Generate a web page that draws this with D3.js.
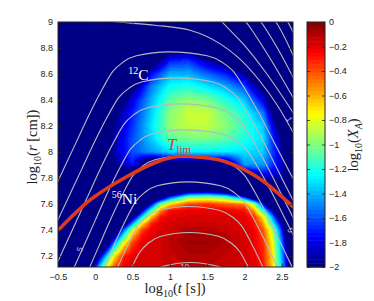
<!DOCTYPE html>
<html><head><meta charset="utf-8">
<script src="https://cdn.jsdelivr.net/npm/d3@7"></script>
<style>body{margin:0;background:#fff}svg{display:block}</style>
</head><body><div id="chart"></div>
<script>
// ---------------- data ----------------
// 12C abundance, coarse grid (log10 X), rows = cGridR, cols = cGridT
const cGridT = [-0.5,-0.25,0,0.25,0.5,0.75,1,1.25,1.5,1.75,2,2.25,2.5,2.75];
const cGridR = [9.0,8.9,8.8,8.7,8.6,8.5,8.4,8.3,8.2,8.1,8.0,7.9,7.8,7.7,7.6,7.5,7.4,7.3,7.2,7.1];
const carbonLogX = [
 [-3,-3,-3,-3,-3,-3,-3,-3,-3,-3,-3,-3,-3,-3],
 [-3,-3,-3,-3,-3,-3,-3,-3,-3,-3,-3,-3,-3,-3],
 [-3,-3,-3,-3,-3,-3,-2.15,-2.1,-2.5,-2.8,-3,-3,-3,-3],
 [-3,-3,-3,-3,-3,-2.2,-1.7,-1.65,-1.9,-2.1,-2.5,-3,-3,-3],
 [-3,-3,-3,-3,-2.7,-1.75,-1.4,-1.4,-1.55,-1.7,-1.95,-2.6,-3,-3],
 [-3,-3,-3,-2.6,-2.05,-1.5,-1.22,-1.18,-1.28,-1.4,-1.6,-2.1,-3,-3],
 [-3,-3,-3,-2.3,-1.8,-1.4,-1.07,-0.97,-1.02,-1.18,-1.35,-1.8,-2.8,-3],
 [-3,-3,-2.4,-2.05,-1.7,-1.35,-0.98,-0.85,-0.86,-1.03,-1.2,-1.5,-2.5,-3],
 [-3,-3,-2.4,-1.98,-1.65,-1.3,-0.96,-0.87,-0.87,-0.98,-1.15,-1.35,-2.2,-3],
 [-3,-3,-2.4,-1.92,-1.6,-1.35,-1.08,-1.03,-1.03,-1.08,-1.2,-1.3,-2.0,-3],
 [-3,-3,-2.4,-1.92,-1.6,-1.45,-1.33,-1.28,-1.28,-1.28,-1.3,-1.35,-1.9,-3],
 [-3,-3,-3,-2.0,-1.72,-2.5,-2.2,-2.2,-2.2,-2.2,-1.45,-1.45,-1.85,-3],
 [-3,-3,-3,-2.2,-3,-3,-3,-3,-3,-3,-2.4,-1.9,-1.9,-3],
 [-3,-3,-3,-3,-3,-3,-3,-3,-3,-3,-3,-3,-2.2,-3],
 [-3,-3,-3,-3,-3,-3,-3,-3,-3,-3,-3,-3,-3,-3],
 [-3,-3,-3,-3,-3,-3,-3,-3,-3,-3,-3,-3,-3,-3],
 [-3,-3,-3,-3,-3,-3,-3,-3,-3,-3,-3,-3,-3,-3],
 [-3,-3,-3,-3,-3,-3,-3,-3,-3,-3,-3,-3,-3,-3],
 [-3,-3,-3,-3,-3,-3,-3,-3,-3,-3,-3,-3,-3,-3],
 [-3,-3,-3,-3,-3,-3,-3,-3,-3,-3,-3,-3,-3,-3]
];
// 56Ni abundance, finer grid (log10 X)
const niGridT = [-0.25,0,0.125,0.25,0.375,0.5,0.625,0.75,0.875,1.0,1.25,1.5,1.75,2.0,2.125,2.25,2.375,2.5,2.625,2.75];
const niGridR = [7.8,7.75,7.7,7.65,7.6,7.55,7.5,7.45,7.4,7.35,7.3,7.2,7.1];
const nickelLogX = [
 [-3.5,-3.5,-3.5,-3.5,-3.5,-3.5,-3.5,-3.5,-3.5,-3.5,-3.5,-3.5,-3.5,-3.5,-3.5,-3.5,-3.5,-3.5,-3.5,-3.5],
 [-3.5,-3.5,-3.5,-3.5,-3.5,-3.5,-3.5,-3.5,-3.5,-3.3,-3.05,-2.98,-3.15,-3.5,-3.5,-3.5,-3.5,-3.5,-3.5,-3.5],
 [-3.5,-3.5,-3.5,-3.5,-3.5,-3.5,-3.5,-3.5,-3.1,-2.66,-2.09,-2.0,-2.2,-2.68,-3.2,-3.5,-3.5,-3.5,-3.5,-3.5],
 [-3.5,-3.5,-3.5,-3.5,-3.5,-3.5,-3.3,-2.66,-2.15,-1.6,-0.98,-0.92,-1.06,-1.65,-2.25,-2.7,-3.3,-3.5,-3.5,-3.5],
 [-3.5,-3.5,-3.5,-3.5,-3.5,-3.5,-2.55,-1.8,-1.05,-0.7,-0.38,-0.35,-0.43,-0.5,-0.9,-1.75,-2.7,-3.5,-3.5,-3.5],
 [-3.5,-3.5,-3.5,-3.5,-3.5,-2.73,-1.87,-1.15,-0.52,-0.26,-0.21,-0.2,-0.22,-0.27,-0.55,-1.2,-1.9,-3.2,-3.5,-3.5],
 [-3.5,-3.5,-3.5,-3.5,-2.9,-2.0,-1.3,-0.62,-0.26,-0.2,-0.18,-0.18,-0.18,-0.2,-0.3,-0.72,-1.45,-2.27,-3.5,-3.5],
 [-3.5,-3.5,-3.5,-3.1,-2.2,-1.45,-0.72,-0.3,-0.2,-0.17,-0.15,-0.15,-0.16,-0.19,-0.26,-0.55,-1.2,-1.9,-3.2,-3.5],
 [-3.5,-3.5,-3.5,-2.45,-1.6,-0.84,-0.37,-0.21,-0.18,-0.16,-0.1,-0.1,-0.14,-0.18,-0.22,-0.41,-0.9,-1.7,-2.7,-3.5],
 [-3.5,-3.5,-3.0,-1.93,-1.22,-0.56,-0.26,-0.19,-0.17,-0.13,-0.07,-0.07,-0.11,-0.17,-0.21,-0.37,-0.83,-1.6,-2.55,-3.5],
 [-3.5,-3.5,-2.4,-1.55,-0.8,-0.36,-0.21,-0.18,-0.16,-0.12,-0.06,-0.06,-0.1,-0.17,-0.21,-0.33,-0.75,-1.5,-2.4,-3.5],
 [-3.5,-2.27,-1.5,-0.73,-0.31,-0.2,-0.18,-0.17,-0.16,-0.14,-0.1,-0.1,-0.13,-0.17,-0.2,-0.3,-0.7,-1.42,-2.25,-3.5],
 [-3.5,-1.6,-0.8,-0.35,-0.21,-0.18,-0.17,-0.16,-0.16,-0.15,-0.13,-0.13,-0.15,-0.17,-0.2,-0.28,-0.65,-1.35,-2.1,-3.5]
];
// T_lim curve
const tlimT = [-0.5,-0.06,0.39,0.84,1.1,1.4,1.735,2.18,2.66];
const tlimR = [7.396,7.635,7.80,7.927,7.965,7.96,7.927,7.804,7.573];
// gray contour family (arches)
const archPeaks   = [8.77,8.57,8.37,8.17,7.97,7.77,7.58,7.38,7.15];
const archCenters = [1.0,1.08,1.14,1.2,1.22,1.24,1.25,1.26,1.27];
const archWidthL  = [0.9,0.9,0.88,0.86,0.84,0.82,0.8,0.78,0.72];
const archWidthR  = [1.0,0.97,0.97,0.97,0.92,0.88,0.84,0.8,0.74];
const archProfileU    = [0,0.5,0.7,0.85,1.0,1.2,1.4,1.6,1.8,2.0,2.4];
const archProfileDrop = [0,0.03,0.08,0.15,0.28,0.48,0.7,0.92,1.14,1.36,1.8];
// outer contour lines
const outerLine1 = [[-0.3,9.04],[0.3,9.0],[0.8,8.975],[1.28,8.935],[1.68,8.83],[1.91,8.73],[2.2,8.55],[2.45,8.35],[2.7,8.1]];
const outerLines = [
 [[1.55,9.1],[1.70,9.0],[2.0,8.82],[2.3,8.6],[2.7,8.26]],
 [[1.9,9.08],[2.02,9.0],[2.3,8.76],[2.7,8.37]],
 [[2.1,9.08],[2.22,9.0],[2.45,8.79],[2.7,8.52]],
 [[2.3,9.08],[2.42,9.0],[2.7,8.68]],
 [[2.48,9.07],[2.58,9.0],[2.7,8.86]]
];
const contourLabels = ["1","5","5","10"];
const contourLabelT = [2.6,-0.21,2.615,1.2];
const contourLabelR = [8.25,7.25,7.4,7.125];
const xTicks = [-0.5,0,0.5,1,1.5,2,2.5];
const yTicks = [7.2,7.4,7.6,7.8,8,8.2,8.4,8.6,8.8,9];
const cbTicks = [0,-0.2,-0.4,-0.6,-0.8,-1,-1.2,-1.4,-1.6,-1.8,-2];

// ---------------- layout ----------------
const W = 374, H = 301;
const L = 58, R = 293, T = 22, B = 267;
const x = d3.scaleLinear().domain([-0.5, 2.65]).range([L, R]);
const y = d3.scaleLinear().domain([7.115, 9.0]).range([B, T]);
const cb = d3.scaleLinear().domain([-2, 0]).range([B, T]);
const CBL = 307, CBR = 325;
const nLevels = 64;

const clamp = v => Math.max(0, Math.min(1, v));
function jet(s){
  return [clamp(1.5-Math.abs(4*s-3)), clamp(1.5-Math.abs(4*s-2)), clamp(1.5-Math.abs(4*s-1))];
}
function colorOf(v){
  const s = clamp((v+2)/2);
  const idx = Math.min(nLevels-1, Math.floor(s*nLevels));
  return jet((idx+0.5)/nLevels);
}

const svg = d3.select('#chart').append('svg').attr('width', W).attr('height', H);

// bilinear shading of a grid (rows in descending r)
function sampler(gt, gr, Z){
  const negR = gr.map(v => -v);
  return function(t, r){
    if (t < gt[0] || t > gt[gt.length-1] || r > gr[0] || r < gr[gr.length-1]) return -3.5;
    let c = d3.bisectRight(gt, t) - 1; c = Math.max(0, Math.min(gt.length-2, c));
    let k = d3.bisectRight(negR, -r) - 1; k = Math.max(0, Math.min(gr.length-2, k));
    const fx = (t - gt[c])/(gt[c+1]-gt[c]);
    const fy = (gr[k] - r)/(gr[k]-gr[k+1]);
    return (1-fx)*(1-fy)*Z[k][c] + fx*(1-fy)*Z[k][c+1] + (1-fx)*fy*Z[k+1][c] + fx*fy*Z[k+1][c+1];
  };
}
const carbonAt = sampler(cGridT, cGridR, carbonLogX);
const nickelAt = sampler(niGridT, niGridR, nickelLogX);

const cw = R - L, ch = B - T;
const canvas = document.createElement('canvas');
canvas.width = cw; canvas.height = ch;
const ctx = canvas.getContext('2d');
const img = ctx.createImageData(cw, ch);
for (let j = 0; j < ch; j++){
  const r = y.invert(T + j + 0.5);
  for (let i = 0; i < cw; i++){
    const t = x.invert(L + i + 0.5);
    const col = colorOf(Math.max(carbonAt(t, r), nickelAt(t, r)));
    const p = (j*cw + i)*4;
    img.data[p] = Math.round(col[0]*255); img.data[p+1] = Math.round(col[1]*255);
    img.data[p+2] = Math.round(col[2]*255); img.data[p+3] = 255;
  }
}
ctx.putImageData(img, 0, 0);
svg.append('image').attr('x', L).attr('y', T).attr('width', cw).attr('height', ch)
  .attr('preserveAspectRatio','none').attr('href', canvas.toDataURL());

svg.append('clipPath').attr('id','plotclip').append('rect')
  .attr('x', L).attr('y', T).attr('width', cw).attr('height', ch);
const g = svg.append('g').attr('clip-path','url(#plotclip)');

const line = d3.line().x(d => x(d[0])).y(d => y(d[1])).curve(d3.curveMonotoneX);
function archPoints(k){
  const pts = [];
  for (let i = archProfileU.length-1; i > 0; i--)
    pts.push([archCenters[k]-archProfileU[i]*archWidthL[k], archPeaks[k]-archProfileDrop[i]]);
  pts.push([archCenters[k], archPeaks[k]]);
  for (let i = 1; i < archProfileU.length; i++)
    pts.push([archCenters[k]+archProfileU[i]*archWidthR[k], archPeaks[k]-archProfileDrop[i]]);
  return pts;
}
const grayLines = [outerLine1, ...outerLines, ...archPeaks.map((_, k) => archPoints(k))];
g.selectAll('path.gl').data(grayLines).join('path').attr('class','gl')
  .attr('d', line).attr('fill','none').attr('stroke','#b9b9bd').attr('stroke-width',1.1);

// contour labels
const labAngles = [62,-74,64,0];
g.selectAll('text.cl').data(contourLabels).join('text').attr('class','cl')
  .attr('transform', (d,i) => `translate(${x(contourLabelT[i])},${y(contourLabelR[i])}) rotate(${labAngles[i]})`)
  .attr('text-anchor','middle').attr('dy','0.35em')
  .attr('font-family','Liberation Sans, Arial, sans-serif').attr('font-size',8)
  .attr('fill','#c8c8d0').text(d => d);

// T_lim red curve
g.append('path').datum(tlimT.map((t,i) => [t, tlimR[i]]))
  .attr('d', d3.line().x(d=>x(d[0])).y(d=>y(d[1])).curve(d3.curveCatmullRom))
  .attr('fill','none').attr('stroke','#dd3b1c').attr('stroke-width',3.6);

// annotations
const serif = 'Liberation Serif, Times New Roman, serif';
const c12 = svg.append('text').attr('x', x(0.44)).attr('y', y(8.55)).attr('font-family', serif).attr('fill','#fff');
c12.append('tspan').attr('font-size',10).attr('dy',-6).text('12');
c12.append('tspan').attr('font-size',15.5).attr('dy',6).text('C');
const ni = svg.append('text').attr('x', x(0.22)).attr('y', y(7.6)).attr('font-family', serif).attr('fill','#fff');
ni.append('tspan').attr('font-size',10).attr('dy',-6).text('56');
ni.append('tspan').attr('font-size',15.5).attr('dy',6).text('Ni');
const tl = svg.append('text').attr('x', x(0.96)).attr('y', y(8.015)).attr('font-family', serif).attr('fill','#c84a2c');
tl.append('tspan').attr('font-size',17).attr('font-style','italic').text('T');
tl.append('tspan').attr('font-size',11).attr('dy',3).text('lim');

// frame + axes
const sans = 'Liberation Sans, Arial, sans-serif';
const fmt = d => String(d).replace('-', '\u2212');
function styleAxis(sel){
  sel.select('.domain').remove();
  sel.selectAll('line').attr('stroke','#222').attr('stroke-width',0.8);
  sel.selectAll('text').attr('font-family', sans).attr('font-size',9).attr('fill','#222');
}
svg.append('g').attr('transform',`translate(0,${B})`)
  .call(d3.axisBottom(x).tickValues(xTicks).tickFormat(fmt).tickSize(-3.5).tickPadding(7)).call(styleAxis);
svg.append('g').attr('transform',`translate(0,${T})`)
  .call(d3.axisTop(x).tickValues(xTicks).tickFormat('').tickSize(-3.5)).call(styleAxis);
svg.append('g').attr('transform',`translate(${L},0)`)
  .call(d3.axisLeft(y).tickValues(yTicks).tickFormat(fmt).tickSize(-3.5).tickPadding(5)).call(styleAxis);
svg.append('g').attr('transform',`translate(${R},0)`)
  .call(d3.axisRight(y).tickValues(yTicks).tickFormat('').tickSize(-3.5)).call(styleAxis);
svg.append('rect').attr('x',L).attr('y',T).attr('width',cw).attr('height',ch)
  .attr('fill','none').attr('stroke','#222').attr('stroke-width',1);

// colorbar
const levels = d3.range(nLevels);
svg.append('g').selectAll('rect').data(levels).join('rect')
  .attr('x', CBL).attr('width', CBR-CBL)
  .attr('y', d => cb(-2 + (d+1)*2/nLevels)).attr('height', d => cb(-2 + d*2/nLevels) - cb(-2 + (d+1)*2/nLevels) + 0.5)
  .attr('fill', d => { const c = jet((d+0.5)/nLevels); return d3.rgb(c[0]*255, c[1]*255, c[2]*255); });
svg.append('g').attr('transform',`translate(${CBR},0)`)
  .call(d3.axisRight(cb).tickValues(cbTicks).tickFormat(fmt).tickSize(-3).tickPadding(4)).call(styleAxis);
svg.append('g').attr('transform',`translate(${CBL},0)`)
  .call(d3.axisLeft(cb).tickValues(cbTicks).tickFormat('').tickSize(-3)).call(styleAxis);
svg.append('rect').attr('x',CBL).attr('y',T).attr('width',CBR-CBL).attr('height',ch)
  .attr('fill','none').attr('stroke','#222').attr('stroke-width',1);

// axis titles
function mathLabel(sel, parts){
  parts.forEach(p => {
    const ts = sel.append('tspan').text(p.t);
    if (p.sub) ts.attr('font-size',10).attr('dy',4); else ts.attr('font-size',14.5);
    if (p.back) ts.attr('dy',-4);
    if (p.it) ts.attr('font-style','italic');
  });
}
const xl = svg.append('text').attr('x', 175).attr('y', 293).attr('text-anchor','middle').attr('font-family', serif).attr('fill','#222');
mathLabel(xl, [{t:'log'},{t:'10',sub:true},{t:'(',back:true},{t:'t',it:true},{t:' [s])'}]);
const yl = svg.append('text').attr('transform','translate(37,147) rotate(-90)').attr('text-anchor','middle').attr('font-family', serif).attr('fill','#222');
mathLabel(yl, [{t:'log'},{t:'10',sub:true},{t:'(',back:true},{t:'r',it:true},{t:' [cm])'}]);
const cl = svg.append('text').attr('transform','translate(358,145) rotate(-90)').attr('text-anchor','middle').attr('font-family', serif).attr('fill','#222');
mathLabel(cl, [{t:'log'},{t:'10',sub:true},{t:'(',back:true},{t:'X',it:true},{t:'A',sub:true,it:true},{t:')',back:true}]);
</script>
</body></html>
